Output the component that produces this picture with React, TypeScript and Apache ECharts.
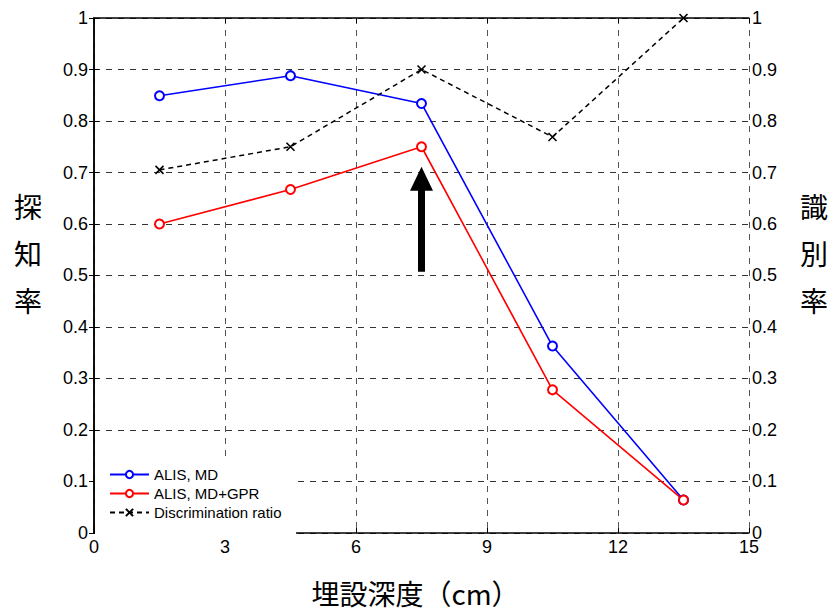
import React, { useEffect, useRef } from "react";
import * as echarts from "echarts";

const depths = [1.5, 4.5, 7.5, 10.5, 13.5];
const alisMD = [0.849, 0.888, 0.834, 0.363, 0.064];
const alisMDGPR = [0.6, 0.667, 0.75, 0.278, 0.064];
const discrimination = [0.705, 0.75, 0.9, 0.769, 1.0];
const arrowPoint = [7.5, 0.609];

const latin = "'Liberation Sans', Arial, sans-serif";
const cjk = "'Noto Sans CJK JP', sans-serif";

export default function App() {
  const ref = useRef<HTMLDivElement>(null);
  useEffect(() => {
    if (!ref.current) return;
    const chart = echarts.init(ref.current, null, { renderer: "svg" });
    const pairs = (ys: number[]) => depths.map((x, i) => [x, ys[i]]);
    const yAxisBase = {
      type: "value",
      min: 0,
      max: 1,
      interval: 0.1,
      axisLine: { show: true, lineStyle: { color: "#000", width: 1.5 } },
      axisTick: { show: true, inside: true, length: 5, lineStyle: { color: "#000" } },
      axisLabel: { color: "#000", fontSize: 18, fontFamily: latin },
    };
    chart.setOption({
      animation: false,
      backgroundColor: "#fff",
      grid: { left: 94, right: 84, top: 18, bottom: 76, containLabel: false },
      xAxis: [
        {
          type: "value",
          min: 0,
          max: 15,
          interval: 3,
          position: "bottom",
          name: "埋設深度（cm）",
          nameLocation: "middle",
          nameGap: 46,
          nameTextStyle: { fontSize: 28, fontFamily: cjk, color: "#000", padding: [0, 12, 0, 0] },
          axisLine: { show: true, onZero: false, lineStyle: { color: "#000", width: 1.5 } },
          axisTick: { show: true, inside: true, length: 5, lineStyle: { color: "#000" } },
          axisLabel: { color: "#000", fontSize: 18, fontFamily: latin, margin: 5, showMinLabel: true, showMaxLabel: true },
          splitLine: { show: true, lineStyle: { color: "#555", type: [6, 6], width: 1 } },
        },
        {
          type: "value",
          min: 0,
          max: 15,
          interval: 3,
          position: "top",
          axisLine: { show: true, onZero: false, lineStyle: { color: "#000", width: 1.5 } },
          axisTick: { show: true, inside: true, length: 5, lineStyle: { color: "#000" } },
          axisLabel: { show: false },
          splitLine: { show: false },
        },
      ],
      yAxis: [
        {
          ...yAxisBase,
          position: "left",
          axisLabel: { ...yAxisBase.axisLabel, margin: 6 },
          splitLine: { show: true, lineStyle: { color: "#333", type: [6, 6], width: 1 } },
        },
        {
          ...yAxisBase,
          position: "right",
          axisLabel: { ...yAxisBase.axisLabel, margin: 3 },
          splitLine: { show: false },
        },
      ],
      legend: {
        orient: "vertical",
        left: 109,
        top: 467,
        padding: 0,
        itemWidth: 39,
        itemHeight: 9,
        itemGap: 4,
        z: 6,
        textStyle: { fontSize: 15, fontFamily: latin, color: "#000", padding: [0, 0, 0, 0] },
        data: ["ALIS, MD", "ALIS, MD+GPR", "Discrimination ratio"],
      },
      graphic: [
        {
          type: "rect",
          z: 5,
          shape: { x: 95, y: 460, width: 201, height: 75 },
          style: { fill: "#fff" },
        },
        {
          type: "text",
          left: 14,
          top: 182,
          style: { text: "探\n知\n率", fontSize: 28, fontFamily: cjk, fill: "#000", lineHeight: 47 },
        },
        {
          type: "text",
          left: 800,
          top: 182,
          style: { text: "識\n別\n率", fontSize: 28, fontFamily: cjk, fill: "#000", lineHeight: 47 },
        },
      ],
      series: [
        {
          name: "ALIS, MD",
          type: "line",
          data: pairs(alisMD),
          symbol: "emptyCircle",
          symbolSize: 9,
          lineStyle: { color: "#0000ff", width: 1.6 },
          itemStyle: { color: "#0000ff", borderColor: "#0000ff", borderWidth: 1.6 },
        },
        {
          name: "ALIS, MD+GPR",
          type: "line",
          data: pairs(alisMDGPR),
          symbol: "emptyCircle",
          symbolSize: 9,
          lineStyle: { color: "#ff0000", width: 1.6 },
          itemStyle: { color: "#ff0000", borderColor: "#ff0000", borderWidth: 1.6 },
          markPoint: {
            symbol: "path://M11.5,0 L23,24 L15,24 L15,105 L8,105 L8,24 L0,24 Z",
            symbolSize: [23, 105],
            symbolKeepAspect: false,
            itemStyle: { color: "#000", borderWidth: 0 },
            label: { show: false },
            data: [{ coord: arrowPoint }],
          },
        },
        {
          name: "Discrimination ratio",
          type: "line",
          yAxisIndex: 1,
          data: pairs(discrimination),
          symbol: "path://M0,0 L10,10 M10,0 L0,10",
          symbolSize: 8,
          lineStyle: { color: "#000", width: 1.5, type: [5, 4] },
          itemStyle: { color: "#000", borderColor: "#000", borderWidth: 1.6 },
        },
      ],
    });
    return () => chart.dispose();
  }, []);
  return <div ref={ref} style={{ width: 833, height: 612, position: "absolute", left: 0, top: 0 }} />;
}
